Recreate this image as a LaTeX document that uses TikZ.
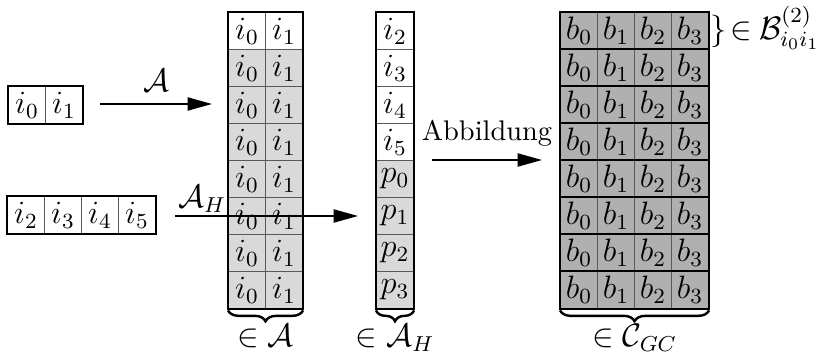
\documentclass[tikz,border=0pt]{standalone}
\usetikzlibrary{decorations.pathreplacing,arrows.meta}
\begin{document}
\begin{tikzpicture}[x=0.37pt,y=-0.37pt,
  font=\fontsize{11.5}{13}\selectfont,
  cell/.style={draw=black!65, line width=0.4pt, minimum width=13.69pt, minimum height=13.69pt, inner sep=0pt, anchor=north west},
  white/.style={cell, fill=white},
  lite/.style={cell, fill=black!15},
  dark/.style={cell, fill=black!31},
  frame/.style={draw=black, line width=0.9pt},
  arr/.style={-{Triangle[length=9pt,width=4.8pt]}, line width=0.75pt},
  brc/.style={decorate, decoration={brace, mirror, amplitude=4pt}, line width=0.9pt}]
\useasboundingbox (0,0) rectangle (822,352);

% left input boxes
\node[white] (s0) at (8,86) {$i_0$};
\node[white] (s1) at (45,86) {$i_1$};
\draw[frame] (s0.north west) rectangle (s1.south east);
\foreach \t [count=\k from 0] in {2,3,4,5}{
  \node[white] (h\k) at (7+37*\k,196) {$i_{\t}$};
}
\draw[frame] (h0.north west) rectangle (h3.south east);

% column A
\foreach \k in {0,...,7}{
  \ifnum\k=0 \def\st{white}\else\def\st{lite}\fi
  \node[\st] (a\k l) at (228,12+37*\k) {$i_0$};
  \node[\st] (a\k r) at (265,12+37*\k) {$i_1$};
}
\draw[frame] (a0l.north west) rectangle (a7r.south east);

% column A_H
\foreach \t [count=\k from 0] in {i_2,i_3,i_4,i_5,p_0,p_1,p_2,p_3}{
  \ifnum\k<4 \def\st{white}\else\def\st{lite}\fi
  \node[\st] (ah\k) at (376,12+37*\k) {$\t$};
}
\draw[frame] (ah0.north west) rectangle (ah7.south east);

% column C_GC
\foreach \k in {0,...,7}{
  \foreach \j in {0,...,3}{
    \node[dark] (c\k\j) at (560+37*\j,12+37*\k) {$b_{\j}$};
  }
  \draw[frame] (c\k0.north west) rectangle (c\k3.south east);
}

% arrows
\coordinate (p1) at (100,104); \coordinate (q1) at (212,104);
\draw[arr] (p1) -- (q1) node[midway, above=1pt] {$\mathcal{A}$};
\coordinate (p2) at (175,216); \coordinate (q2) at (358,216);
\draw[arr] (p2) -- (q2);
\node[anchor=south west, inner sep=1pt] (lAH) at (p2) {$\mathcal{A}_H$};
\coordinate (p3) at (432,160); \coordinate (q3) at (542,160);
\draw[arr] (p3) -- (q3) node[midway, above=1.5pt, font=\fontsize{10.5}{12}\selectfont] {Abbildung};

% braces and labels
\draw[brc] ([yshift=-0.5pt]a7l.south west) -- ([yshift=-0.5pt]a7r.south east) node[midway, below=3.8pt, inner sep=1pt] (lA) {$\in\mathcal{A}$};
\draw[brc] ([yshift=-0.5pt]ah7.south west) -- ([yshift=-0.5pt]ah7.south east) node[midway, below=3.8pt, inner sep=1pt] (lH) {$\in\mathcal{A}_H$};
\draw[brc] ([yshift=-0.5pt]c70.south west) -- ([yshift=-0.5pt]c73.south east) node[midway, below=3.8pt, inner sep=1pt] (lC) {$\in\mathcal{C}_{GC}$};
\node[anchor=west, inner sep=0pt] (lB) at ([xshift=0.3pt,yshift=1pt]c03.east) {$\big\}\mskip2mu{\in}\mskip4mu\mathcal{B}^{(2)}_{i_0i_1}$};
\end{tikzpicture}
\end{document}
